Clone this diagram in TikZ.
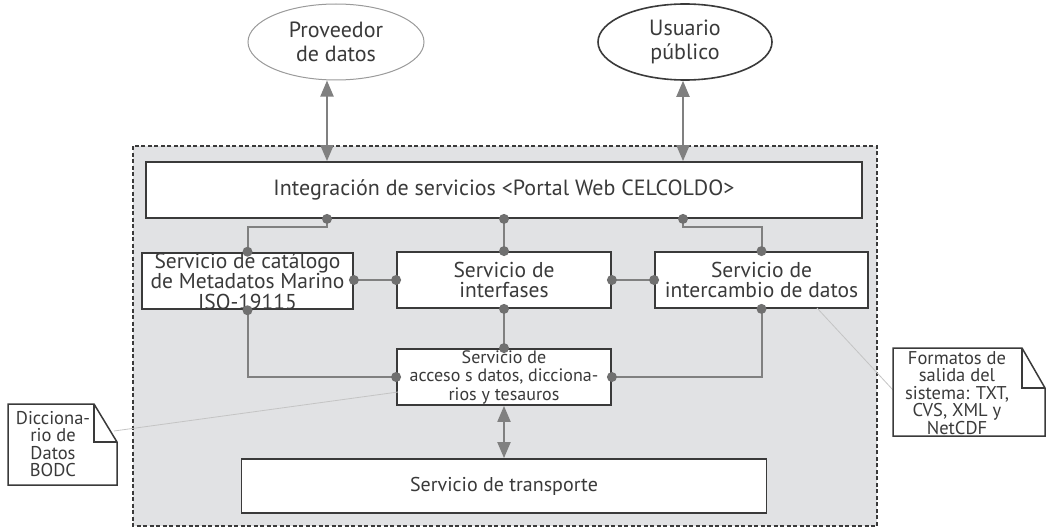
\documentclass[tikz,border=0pt]{standalone}
\usepackage{fontspec}
\setmainfont{PT Sans}
\usetikzlibrary{arrows.meta,shapes.geometric}
\definecolor{bg}{HTML}{E1E2E4}
\definecolor{ln}{HTML}{808080}
\definecolor{bd}{HTML}{3A3A3A}
\definecolor{tx}{HTML}{3A3A3A}
\definecolor{dotc}{HTML}{707070}
\definecolor{thinc}{HTML}{C4C4C4}
\definecolor{ellc}{HTML}{9A9A9A}
\newcommand\jdot[1]{\fill[dotc] #1 circle (5pt);}
\begin{document}
\begin{tikzpicture}[x=1pt,y=-1pt,
  box/.style={draw=bd, line width=1.8pt, fill=white, inner sep=0pt, align=center, text=tx, font=\fontsize{21.5}{20.5}\selectfont},
  smallbox/.style={box, font=\fontsize{18}{18.5}\selectfont},
  ell/.style={ellipse, inner sep=0pt, fill=white, align=center, text=tx, font=\fontsize{22}{24}\selectfont},
  conn/.style={draw=ln, line width=2pt},
  dbl/.style={draw=ln, line width=2pt, {Triangle[length=16pt,width=13pt]}-{Triangle[length=16pt,width=13pt]}},
  notebd/.style={draw=bd, line width=1.5pt},
  notetext/.style={inner sep=0pt, align=center, text=tx, font=\fontsize{18.5}{17.5}\selectfont},
  thinline/.style={draw=thinc, line width=0.8pt}]
\useasboundingbox (0,0) rectangle (1047,527);
% system region
\draw[draw=bd, line width=1.3pt, dash pattern=on 4pt off 2.5pt, fill=bg] (133,146) rectangle (877,526);

% external actors
\node[ell, draw=ellc, line width=1pt, minimum width=176pt, minimum height=76pt] (prov) at (336,42) {Proveedor\\de datos};
\node[ell, draw=bd, line width=1.6pt, minimum width=174pt, minimum height=76pt] (usu) at (685,42) {Usuario\\público};

% boxes
\node[box, font=\fontsize{22}{22}\selectfont, minimum width=716pt, minimum height=56pt] (integ) at (504,190) {Integración de servicios <Portal Web CELCOLDO>};
\node[box, minimum width=211pt, minimum height=56pt] (cat) at (247.5,281) {Servicio de catálogo\\de Metadatos Marino\\ISO-19115};
\node[box, minimum width=214pt, minimum height=56pt] (intf) at (504,280) {Servicio de\\interfases};
\node[box, minimum width=213pt, minimum height=56pt] (inter) at (761.5,280) {Servicio de\\intercambio de datos};
\node[smallbox, minimum width=214pt, minimum height=56pt] (acc) at (504,377) {Servicio de\\acceso s datos, dicciona-\\rios y tesauros};
\node[box, font=\fontsize{20}{20}\selectfont, minimum width=525pt, minimum height=54pt] (trans) at (504,486) {Servicio de transporte};

% helper coordinates
\coordinate (cA) at (327,227);
\coordinate (cB) at (683,227);

% arrows to actors
\draw[dbl] (integ.north -| cA) -- (prov.south -| cA);
\draw[dbl] (integ.north -| cB) -- (usu.south -| cB);
\draw[dbl] (acc.south) -- (trans.north);

% connectors
\draw[conn] (integ.south -| cA) -- (cA) -| (cat.north);
\draw[conn] (integ.south) -- (intf.north);
\draw[conn] (integ.south -| cB) -- (cB) -| (inter.north);
\draw[conn] (intf.west -| cat.east) -- (intf.west);
\draw[conn] (intf.east) -- (inter.west);
\draw[conn] (intf.south) -- (acc.north);
\draw[conn] (cat.south) |- (acc.west);
\draw[conn] (inter.south) |- (acc.east);

% dots
\jdot{(integ.south -| cA)}
\jdot{(cat.north)}
\jdot{(integ.south)}
\jdot{(intf.north)}
\jdot{(integ.south -| cB)}
\jdot{(inter.north)}
\jdot{(intf.west -| cat.east)}
\jdot{(intf.west)}
\jdot{(intf.east)}
\jdot{(inter.west)}
\jdot{(intf.south)}
\jdot{(acc.north)}
\jdot{(cat.south)}
\jdot{(acc.west)}
\jdot{(inter.south)}
\jdot{(acc.east)}

% notes
\coordinate (dicEnd) at (114,431);
\coordinate (accNote) at (398,392);
\coordinate (fmtEnd) at (893,390);
\coordinate (interNote) at (817,308);
\draw[thinline] (dicEnd) -- (accNote);
\draw[thinline] (fmtEnd) -- (interNote);
\draw[notebd, fill=white] (8,404) -- (94,404) -- (117,442) -- (117,485) -- (8,485) -- cycle;
\draw[notebd] (94,404) -- (94,442) -- (117,442);
\node[notetext] (dic) at (53,444) {Dicciona-\\rio de\\Datos\\BODC};
\draw[notebd, fill=white] (893,348) -- (1022,348) -- (1045,388) -- (1045,436) -- (893,436) -- cycle;
\draw[notebd] (1022,348) -- (1022,388) -- (1045,388);
\node[notetext] (fmt) at (957,393) {Formatos de\\salida del\\sistema: TXT,\\CVS, XML y\\NetCDF};
\end{tikzpicture}
\end{document}
